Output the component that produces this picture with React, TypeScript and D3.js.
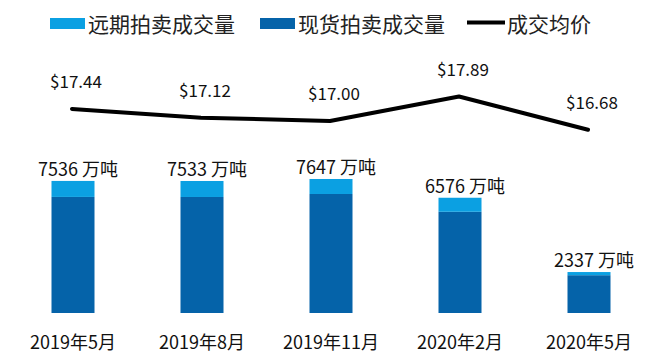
import React, { useRef, useEffect } from 'react';
import * as d3 from 'd3';

// 数据
const categories = ['2019年5月', '2019年8月', '2019年11月', '2020年2月', '2020年5月'];
const totalVolume = [7536, 7533, 7647, 6576, 2337]; // 万吨
const forwardVolume = [913, 913, 856, 800, 180]; // 远期拍卖成交量（估计）
const spotVolume = totalVolume.map((t, i) => t - forwardVolume[i]); // 现货拍卖成交量
const avgPrice = [17.44, 17.12, 17.0, 17.89, 16.68];

const legendItems = ['远期拍卖成交量', '现货拍卖成交量', '成交均价'];

const COLOR_FWD = '#0BA0E2';
const COLOR_SPOT = '#0563A9';
const FONT = '"Noto Sans CJK SC", "Noto Sans", sans-serif';

const plot = (svgRef: React.RefObject<SVGSVGElement | null>) => {
  const svgEl = d3.select(svgRef.current);
  svgEl.selectAll('*').remove();

  const width = 649;
  const height = 362;

  svgEl.append('rect').attr('width', width).attr('height', height).attr('fill', '#fff');

  const svg = svgEl.append('g');

  // 比例尺
  const xScale = d3.scalePoint<string>().domain(categories).range([73, 589]);
  const barW = 43;

  const yBar = d3.scaleLinear().domain([0, 8000]).range([313, 172.8]);
  const yPrice = d3.scaleLinear().domain([16, 18]).range([148.5, 93.5]);

  // 柱子：现货在下，远期在上
  const g = svg.append('g');
  categories.forEach((c, i) => {
    const cx = xScale(c) as number;
    g.append('rect')
      .attr('x', cx - barW / 2)
      .attr('y', yBar(spotVolume[i]))
      .attr('width', barW)
      .attr('height', yBar(0) - yBar(spotVolume[i]))
      .attr('fill', COLOR_SPOT);
    g.append('rect')
      .attr('x', cx - barW / 2)
      .attr('y', yBar(totalVolume[i]))
      .attr('width', barW)
      .attr('height', yBar(spotVolume[i]) - yBar(totalVolume[i]))
      .attr('fill', COLOR_FWD);

    // 总量标签
    g.append('text')
      .attr('x', cx + 5)
      .attr('y', yBar(totalVolume[i]) - 5)
      .attr('text-anchor', 'middle')
      .attr('font-family', FONT)
      .attr('font-size', 18)
      .attr('fill', '#111')
      .text(`${totalVolume[i]} 万吨`);

    // x 轴标签
    g.append('text')
      .attr('x', cx)
      .attr('y', 349)
      .attr('text-anchor', 'middle')
      .attr('font-family', FONT)
      .attr('font-size', 18)
      .attr('fill', '#111')
      .text(c);
  });

  // 均价折线
  svg.append('path')
    .datum(avgPrice)
    .attr('fill', 'none')
    .attr('stroke', '#000')
    .attr('stroke-width', 4)
    .attr('stroke-linejoin', 'round')
    .attr('stroke-linecap', 'round')
    .attr('d', d3.line<number>()
      .x((d, i) => (xScale(categories[i]) as number) - 1)
      .y(d => yPrice(d))
    );

  svg.selectAll('.price-label')
    .data(avgPrice)
    .enter()
    .append('text')
    .attr('x', (d, i) => (xScale(categories[i]) as number) + 3)
    .attr('y', d => yPrice(d) - 21)
    .attr('text-anchor', 'middle')
    .attr('font-family', FONT)
    .attr('font-size', 17)
    .attr('fill', '#111')
    .text(d => `$${d.toFixed(2)}`);

  // 图例
  const legend = svg.append('g');
  const legendX = [50, 260, 467];
  legendItems.forEach((name, i) => {
    if (i < 2) {
      legend.append('rect')
        .attr('x', legendX[i])
        .attr('y', 18)
        .attr('width', 35)
        .attr('height', 11)
        .attr('fill', i === 0 ? COLOR_FWD : COLOR_SPOT);
    } else {
      legend.append('line')
        .attr('x1', legendX[i])
        .attr('x2', legendX[i] + 38)
        .attr('y1', 22.5)
        .attr('y2', 22.5)
        .attr('stroke', '#000')
        .attr('stroke-width', 4);
    }
    legend.append('text')
      .attr('x', legendX[i] + (i < 2 ? 38 : 40))
      .attr('y', 23)
      .attr('dominant-baseline', 'central')
      .attr('font-family', FONT)
      .attr('font-size', 21)
      .attr('fill', '#222')
      .text(name);
  });
};

export default function App() {
  const svgRef = useRef<SVGSVGElement>(null);

  useEffect(() => {
    plot(svgRef);
  }, []);

  return (
    <svg
      ref={svgRef}
      width={649}
      height={362}
      style={{ position: 'absolute', left: 0, top: 0, display: 'block' }}
    />
  );
}
